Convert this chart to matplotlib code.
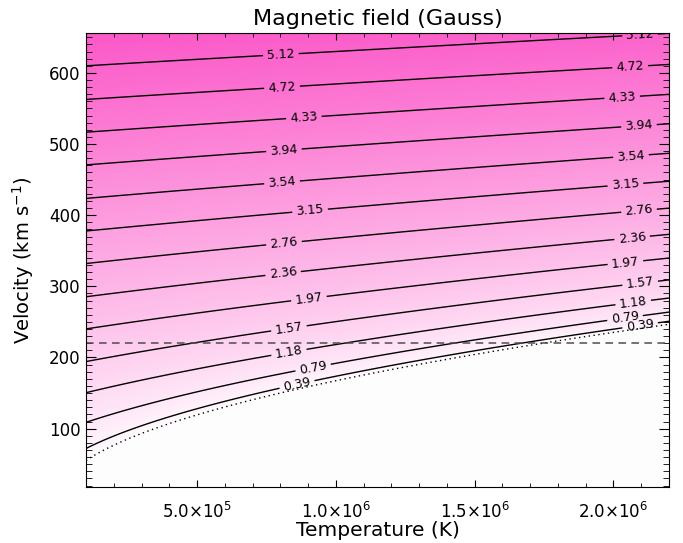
import numpy as np
import matplotlib
matplotlib.use('Agg')
import matplotlib.pyplot as plt
from matplotlib.colors import LinearSegmentedColormap
from matplotlib.ticker import MultipleLocator

# -------------------------
# values
# -------------------------
# dotted curve: speed where the field goes to zero (km/s) against temperature (K)
boundary_T = [1.0e5, 3.3e5, 5.5e5, 9.2e5, 1.3e6, 1.77e6, 2.2e6]
boundary_v = [57, 97, 121, 163, 190, 224, 245]

# field per unit of sqrt(v^2 - c^2), Gauss per km/s
b_per_speed = 0.00843

levels = [0.39, 0.79, 1.18, 1.57, 1.97, 2.36, 2.76, 3.15, 3.54, 3.94, 4.33, 4.72, 5.12]

# temperature where each level's label sits, left and right group
label_T_left = [8.6e5, 9.18e5, 8.31e5, 8.31e5, 9.03e5, 8.1e5, 8.13e5,
                9.07e5, 8.06e5, 8.13e5, 8.85e5, 8.06e5, 8.02e5]
label_T_right = [2.096e6, 2.0415e6, 2.071e6, 2.096e6, 2.043e6, 2.067e6, 2.092e6,
                 2.043e6, 2.063e6, 2.092e6, 2.031e6, 2.06e6, 2.096e6]

dashed_v = 220

xtick_vals = [5.0e5, 1.0e6, 1.5e6, 2.0e6]
xtick_labels = [r'$5.0{\times}10^{5}$', r'$1.0{\times}10^{6}$',
                r'$1.5{\times}10^{6}$', r'$2.0{\times}10^{6}$']
ytick_vals = [100, 200, 300, 400, 500, 600]

t_range = (1.0e5, 2.2e6)
v_range = (18, 656)

# smooth boundary: straight line in sqrt(T) through the read points
coef = np.polyfit(np.sqrt(boundary_T), boundary_v, 1)


def boundary(t):
    return np.polyval(coef, np.sqrt(t))


# -------------------------
# field on a grid
# -------------------------
T = np.linspace(t_range[0], t_range[1], 400)
V = np.linspace(v_range[0], v_range[1], 400)
TT, VV = np.meshgrid(T, V)
cc = boundary(TT)
diff = VV**2 - cc**2
B = np.where(diff > 0, b_per_speed * np.sqrt(np.clip(diff, 0, None)), np.nan)

pink = LinearSegmentedColormap.from_list('pink_white', ['#ffffff', '#fb58c8'])

fig = plt.figure(figsize=(6.83, 5.43), dpi=100)
ax = fig.add_axes([86 / 683, 1 - 487 / 543, 583 / 683, 454 / 543])
ax.set_facecolor('#fdfdfd')

ax.pcolormesh(TT, VV, B, cmap=pink, vmin=0, vmax=np.nanmax(B), shading='auto')
cs = ax.contour(TT, VV, B, levels=levels, colors='k', linewidths=1.0)

# zero-field line, dotted
ax.contour(TT, VV, diff, levels=[0], colors='k', linewidths=1.0,
           linestyles=[(0, (1, 2.5))])
ax.axhline(dashed_v, color='0.3', lw=1.1, ls=(0, (5, 3.5)))

ax.set_xlim(*t_range)
ax.set_ylim(*v_range)

# label positions on the lines
positions = []
for lev, tl, tr in zip(levels, label_T_left, label_T_right):
    for t in (tl, tr):
        positions.append((t, np.sqrt((lev / b_per_speed) ** 2 + boundary(t) ** 2)))

fmt = {lev: '%.2f' % lev for lev in levels}
texts = ax.clabel(cs, fmt=fmt, fontsize=9, inline=True, inline_spacing=4, manual=positions)
for t in texts:
    t.set_clip_on(True)

ax.set_xticks(xtick_vals, xtick_labels)
ax.set_yticks(ytick_vals)
ax.xaxis.set_minor_locator(MultipleLocator(1.0e5))
ax.yaxis.set_minor_locator(MultipleLocator(10))

ax.tick_params(which='both', direction='in', top=True, right=True, labelsize=12)
ax.tick_params(axis='x', which='major', length=5, pad=10.5)
ax.tick_params(axis='x', which='minor', length=3)
ax.tick_params(axis='y', which='major', length=7.5, pad=4)
ax.tick_params(axis='y', which='minor', length=4)

ax.set_title('Magnetic field (Gauss)', fontsize=16, pad=6)
ax.set_xlabel('Temperature (K)', fontsize=14.5)
ax.xaxis.set_label_coords(0.5, -0.074)
ax.set_ylabel(r'Velocity (km s$^{-1}$)', fontsize=14, labelpad=9)

plt.savefig('out.png', dpi=100)
